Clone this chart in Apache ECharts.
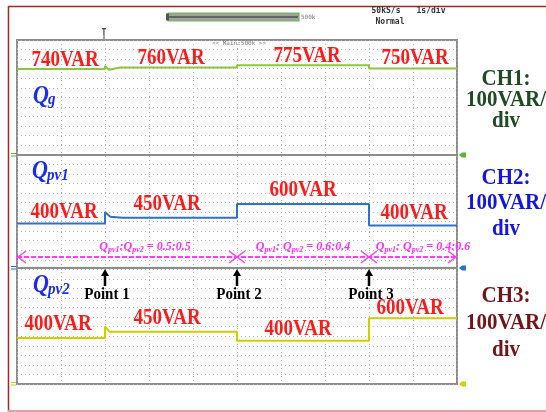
<!DOCTYPE html>
<html><head><meta charset="utf-8">
<script src="https://cdn.jsdelivr.net/npm/echarts@6/dist/echarts.min.js"></script>
<style>html,body{margin:0;padding:0;background:#fff}#c{width:546px;height:412px}</style>
</head><body><div id="c"></div>
<script>
// ---------- data ----------
const segmentBounds = [0, 2, 5, 8, 10];          // time, in divisions
const ratioBounds = [0, 5, 8, 10];
const pointTimes = [2, 5, 8];
const pointNames = ['Point 1', 'Point 2', 'Point 3'];
const qgTime   = [0, 2, 2, 2.09, 2.35, 5, 5, 8, 8, 10];
const qgVals   = [740, 740, 770, 732, 756, 756, 778, 778, 744, 744];
const qpv1Time = [0, 2, 2, 2.12, 2.4, 5, 5, 8, 8, 10];
const qpv1Vals = [405, 405, 520, 472, 462, 462, 600, 600, 385, 385];
const qpv2Time = [0, 2, 2, 2.1, 5, 5, 8, 8, 10];
const qpv2Vals = [400, 400, 515, 463, 463, 373, 373, 598, 598];
const qgLabels   = ['740VAR', '760VAR', '775VAR', '750VAR'];
const qpv1Labels = ['400VAR', '450VAR', '600VAR', '400VAR'];
const qpv2Labels = ['400VAR', '450VAR', '400VAR', '600VAR'];
const ratioLabels = ['0.5:0.5', '0.6:0.4', '0.4:0.6'];
const channelNames = ['CH1:', 'CH2:', 'CH3:'];
const channelScale = ['100VAR/', 'div'];
const traceNames = [['Q', 'g'], ['Q', 'pv1'], ['Q', 'pv2']];

// ---------- layout / style ----------
const SERIF = '"Liberation Serif","Times New Roman",serif';
const MONO = '"DejaVu Sans Mono",monospace';
const screen = {left: 17, top: 40, width: 440, height: 344};
const panels = [
  {top: 40, height: 115, min: -120, max: 1030, color: '#8cc63f'},
  {top: 155, height: 113, min: -40, max: 1090, color: '#2f72c4'},
  {top: 268, height: 116, min: -60, max: 1100, color: '#cfcf00'}
];
const labelOffsets = [
  [[4, -9], [0, -9.4], [4, -9.2], [2, -10.6]],
  [[3, -11.5], [-4, -13.8], [0, -14], [1, -12.5]],
  [[-3, -14], [-4, -13.7], [-5, -11.7], [-3, -10.2]]
];
const chColors = ['#1f4a22', '#1515e0', '#741318'];
const chY = [[79, 100, 121], [178, 203, 229], [296, 323, 350]];
const qPos = [[33, 97, 100], [32, 172, 176], [33, 286, 290]];
const ratioY = 257, ratioTextY = 247, ratioDx = [18, 0, 10];

const traceT = [qgTime, qpv1Time, qpv2Time];
const traceV = [qgVals, qpv1Vals, qpv2Vals];
const traceL = [qgLabels, qpv1Labels, qpv2Labels];

const chart = echarts.init(document.getElementById('c'));
const hiddenAxis = {axisLine: {show: false}, axisTick: {show: false}, axisLabel: {show: false}, splitLine: {show: false}};
const dotted = {show: true, lineStyle: {color: '#b4b4b4', type: [1, 3], width: 1}};

const option = {
  animation: false,
  backgroundColor: '#fff',
  grid: [Object.assign({show: true, borderColor: '#8c8c8c', borderWidth: 2, backgroundColor: '#fff'}, screen)]
    .concat(panels.map(p => ({left: screen.left, width: screen.width, top: p.top, height: p.height, show: false}))),
  xAxis: [Object.assign({gridIndex: 0, type: 'value', min: 0, max: 10, interval: 1}, hiddenAxis, {splitLine: dotted})]
    .concat(panels.map((p, i) => Object.assign({gridIndex: i + 1, type: 'value', min: 0, max: 10}, hiddenAxis))),
  yAxis: [Object.assign({gridIndex: 0, type: 'value', min: 0, max: 36, interval: 1}, hiddenAxis, {splitLine: dotted})]
    .concat(panels.map((p, i) => Object.assign({gridIndex: i + 1, type: 'value', min: p.min, max: p.max}, hiddenAxis))),
  series: panels.map((p, i) => ({
    type: 'line', xAxisIndex: i + 1, yAxisIndex: i + 1, showSymbol: false, silent: true,
    data: traceT[i].map((t, k) => [t, traceV[i][k]]),
    lineStyle: {color: p.color, width: 2}, z: 5
  }))
};
chart.setOption(option);

// ---------- annotations ----------
const px = (g, x, y) => chart.convertToPixel({gridIndex: g}, [x, y]);
const G = [];
const txt = (x, y, text, style, sy, extra) => G.push(Object.assign({
  type: 'text', x: x, y: y, scaleY: sy || 1, z: 20,
  style: Object.assign({text: text, align: 'center', verticalAlign: 'middle'}, style)
}, extra || {}));
const line = (x1, y1, x2, y2, stroke, w, dash) => G.push({type: 'line', z: 15,
  shape: {x1, y1, x2, y2}, style: {stroke, lineWidth: w, lineDash: dash || null}});

// outer frame
G.push({type: 'rect', z: 1, shape: {x: 8.5, y: 6.5, width: 600, height: 404.5}, style: {fill: null, stroke: '#a52828', lineWidth: 1.5}});
line(8, 411, 546, 411, '#e8b8c4', 1.5);

// panel separators
[panels[1].top, panels[2].top].forEach(y => line(screen.left, y, screen.left + screen.width, y, '#8c8c8c', 2));

// level labels
function levelAt(i, t) {
  let v = traceV[i][0];
  traceT[i].forEach((tt, k) => { if (tt <= t) v = traceV[i][k]; });
  return v;
}
traceL.forEach((labels, i) => {
  labels.forEach((lab, s) => {
    const mid = (segmentBounds[s] + segmentBounds[s + 1]) / 2;
    const p = px(i + 1, mid, levelAt(i, mid));
    const o = labelOffsets[i][s];
    txt(p[0] + o[0], p[1] + o[1], lab, {fill: '#ff1a1a', fontFamily: SERIF, fontWeight: 'bold', fontSize: 19}, 1.22);
  });
});

// trace names
traceNames.forEach((n, i) => {
  const q = qPos[i];
  txt(q[0], q[1], n[0], {fill: '#1a2cf0', fontFamily: SERIF, fontWeight: 'bold', fontStyle: 'italic', fontSize: 22, align: 'left'}, 1.1);
  txt(q[0] + 15, q[2], n[1], {fill: '#1a2cf0', fontFamily: SERIF, fontWeight: 'bold', fontStyle: 'italic', fontSize: 15, align: 'left'}, 1.1);
});

// ratio arrow line
const xs = ratioBounds.map(b => px(1, b, 0)[0]);
line(xs[0], ratioY, xs[3], ratioY, '#ff3cff', 2, [5, 2]);
const head = (x, dir) => G.push({type: 'polyline', z: 16,
  shape: {points: [[x - dir * 8, ratioY - 6], [x, ratioY], [x - dir * 8, ratioY + 6]]},
  style: {stroke: '#ff3cff', lineWidth: 1.5, fill: null}});
head(xs[0] + 1, -1); head(xs[1], 1); head(xs[1], -1); head(xs[2], 1); head(xs[2], -1); head(xs[3] - 1, 1);
ratioLabels.forEach((r, k) => {
  const cx = (xs[k] + xs[k + 1]) / 2 + ratioDx[k];
  const sep = k === 0 ? ':' : ': ';
  G.push({type: 'text', x: cx, y: ratioTextY, z: 20, style: {
    text: '{m|Q}{s|pv1}{m|' + sep + 'Q}{s|pv2}{m| = ' + r + '}', align: 'center', verticalAlign: 'middle',
    rich: {
      m: {fill: '#ff2cff', fontFamily: SERIF, fontWeight: 'bold', fontStyle: 'italic', fontSize: 12, lineHeight: 14, verticalAlign: 'middle'},
      s: {fill: '#ff2cff', fontFamily: SERIF, fontWeight: 'bold', fontStyle: 'italic', fontSize: 8, lineHeight: 8, verticalAlign: 'bottom', padding: [6, 0, 0, 0]}
    }}});
});

// event points
pointTimes.forEach((t, k) => {
  const x = px(2, t, 0)[0];
  G.push({type: 'polygon', z: 18, shape: {points: [[x, 269], [x - 4, 276], [x + 4, 276]]}, style: {fill: '#000'}});
  line(x, 275, x, 286, '#000', 2.5);
  txt(x + 2, 295, pointNames[k], {fill: '#000', fontFamily: SERIF, fontWeight: 'bold', fontSize: 15}, 1.1);
});

// channel scale labels
channelNames.forEach((c, i) => {
  const st = {fill: chColors[i], fontFamily: SERIF, fontWeight: 'bold', fontSize: 21};
  txt(506, chY[i][0], c, st, 1.1);
  txt(506, chY[i][1], channelScale[0], st, 1.1);
  txt(506, chY[i][2], channelScale[1], st, 1.1);
});

// channel markers
const mk = [['#55b933', panels[1].top], ['#2277cc', panels[2].top], ['#d2d200', screen.top + screen.height]];
mk.forEach(m => {
  const y = m[1];
  G.push({type: 'polygon', z: 18, shape: {points: [[459, y], [462, y - 2.5], [466, y - 2.5], [466, y + 2.5], [462, y + 2.5]]}, style: {fill: m[0]}});
  line(11, y - 1.5, 16, y - 1.5, m[0], 1);
  line(11, y + 1, 16, y + 1, m[0], 1);
});

// scope status bar
G.push({type: 'rect', z: 10, shape: {x: 168, y: 13, width: 131, height: 8}, style: {fill: '#a0a0a0', stroke: '#66c050', lineWidth: 1.2}});
line(169, 17, 298, 17, '#505050', 1.5);
G.push({type: 'rect', z: 11, shape: {x: 166, y: 13.5, width: 3, height: 7}, style: {fill: '#555'}});
txt(301, 17.5, '500k', {fill: '#777', fontFamily: MONO, fontSize: 6, align: 'left'});
txt(386, 11, '50kS/s', {fill: '#333', fontFamily: MONO, fontSize: 8, fontWeight: 'bold'});
txt(431, 11, '1s/div', {fill: '#333', fontFamily: MONO, fontSize: 8, fontWeight: 'bold'});
txt(390, 21.5, 'Normal', {fill: '#333', fontFamily: MONO, fontSize: 8, fontWeight: 'bold'});
txt(239, 43.5, '<< Main:500k >>', {fill: '#777', fontFamily: MONO, fontSize: 6});
txt(104, 33, 'T', {fill: '#444', fontFamily: MONO, fontSize: 8, fontWeight: 'bold'});
line(104, 35, 104, 39, '#444', 1);

chart.setOption({graphic: {elements: G}});
</script>
</body></html>
